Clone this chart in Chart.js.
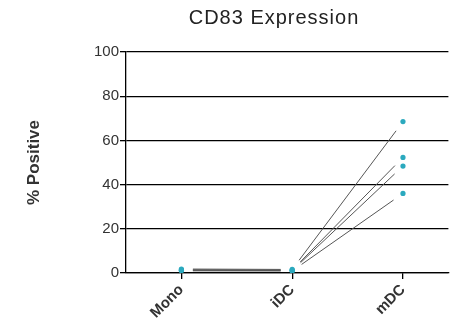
<!DOCTYPE html>
<html>
<head>
<meta charset="utf-8">
<script src="https://cdn.jsdelivr.net/npm/chart.js@4/dist/chart.umd.min.js"></script>
<style>
  html, body { margin: 0; padding: 0; background: #fff; }
  #wrap { width: 451px; height: 331px; }
</style>
</head>
<body>
<div id="wrap"><canvas id="c" width="451" height="331"></canvas></div>
<script>
// Stages along the x axis
const stages = ['Mono', 'iDC', 'mDC'];

// % CD83-positive cells per donor at each stage
const donor1 = [1.8, 1.6, 68.5];
const donor2 = [1.5, 1.3, 52.3];
const donor3 = [1.2, 1.1, 48.4];
const donor4 = [1.0, 0.9, 36.0];

// y axis tick values
const yTicks = [0, 20, 40, 60, 80, 100];

const chartTitle = 'CD83 Expression';
const yTitle = '% Positive';

const donors = [donor1, donor2, donor3, donor4];
const markerColor = '#2ba9be';

const datasets = donors.map((vals, d) => ({
  label: 'Donor ' + (d + 1),
  data: vals.map((v, i) => ({ x: i, y: v })),
  showLine: false,
  pointRadius: 2.6,
  pointHoverRadius: 2.6,
  pointBackgroundColor: markerColor,
  pointBorderWidth: 0,
  borderColor: markerColor
}));

// Thin connectors between a donor's consecutive stages, kept clear of the markers
const connectors = {
  id: 'connectors',
  beforeDatasetsDraw(chart) {
    const { ctx, scales: { x, y } } = chart;
    const gap = 11.5;
    ctx.save();
    ctx.strokeStyle = '#555';
    ctx.lineWidth = 1;
    chart.data.datasets.forEach(ds => {
      for (let i = 0; i < ds.data.length - 1; i++) {
        const x0 = x.getPixelForValue(ds.data[i].x), y0 = y.getPixelForValue(ds.data[i].y);
        const x1 = x.getPixelForValue(ds.data[i + 1].x), y1 = y.getPixelForValue(ds.data[i + 1].y);
        const len = Math.hypot(x1 - x0, y1 - y0);
        const ux = (x1 - x0) / len, uy = (y1 - y0) / len;
        ctx.beginPath();
        ctx.moveTo(x0 + ux * gap, y0 + uy * gap);
        ctx.lineTo(x1 - ux * gap, y1 - uy * gap);
        ctx.stroke();
      }
    });
    ctx.restore();
  }
};

// Title centred over the plotted stages
const titleText = {
  id: 'titleText',
  afterDraw(chart) {
    const { ctx } = chart;
    ctx.save();
    ctx.font = '20px "Liberation Sans", Arial, sans-serif';
    ctx.letterSpacing = '1px';
    ctx.fillStyle = '#222';
    ctx.textAlign = 'center';
    ctx.textBaseline = 'middle';
    ctx.fillText(chartTitle, 274, 18);
    ctx.restore();
  }
};

new Chart(document.getElementById('c'), {
  type: 'scatter',
  data: { datasets },
  plugins: [connectors, titleText],
  options: {
    responsive: false,
    animation: false,
    devicePixelRatio: 1,
    layout: { padding: { top: 52, right: 0, left: 0, bottom: 0 } },
    plugins: {
      legend: { display: false },
      title: { display: false },
      tooltip: { enabled: false }
    },
    scales: {
      x: {
        type: 'linear',
        min: -0.5,
        max: 2.41,
        afterBuildTicks: s => { s.ticks = stages.map((_, i) => ({ value: i })); },
        afterFit: s => { s.height = 58; },
        ticks: {
          callback: v => stages[v],
          autoSkip: false,
          minRotation: 45,
          maxRotation: 45,
          padding: 2,
          color: '#333',
          font: { family: '"Liberation Sans", Arial, sans-serif', size: 15, weight: 'bold' }
        },
        grid: { drawOnChartArea: false, drawTicks: true, tickLength: 6, color: '#000', lineWidth: 1.3 },
        border: { display: true, color: '#000', width: 1.3 }
      },
      y: {
        min: 0,
        max: 100,
        afterBuildTicks: s => { s.ticks = yTicks.map(v => ({ value: v })); },
        afterFit: s => { s.width = 126; },
        ticks: {
          padding: 1,
          color: '#333',
          font: { family: '"Liberation Sans", Arial, sans-serif', size: 15 }
        },
        grid: { color: '#000', lineWidth: 1.3, tickLength: 6 },
        border: { display: true, color: '#000', width: 1.3 },
        title: {
          display: true,
          text: yTitle,
          color: '#333',
          padding: { top: 24, bottom: 0 },
          font: { family: '"Liberation Sans", Arial, sans-serif', size: 17, weight: 'bold' }
        }
      }
    }
  }
});
</script>
</body>
</html>
